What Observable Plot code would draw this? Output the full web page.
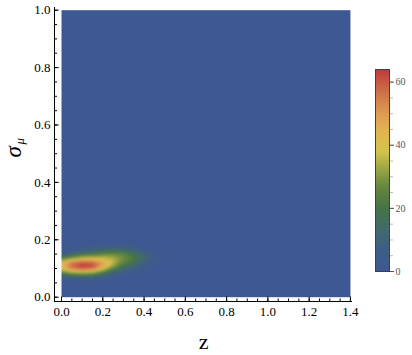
<!DOCTYPE html>
<html><head><meta charset="utf-8">
<script src="https://cdn.jsdelivr.net/npm/d3@7"></script>
<script src="https://cdn.jsdelivr.net/npm/@observablehq/plot@0.6"></script>
<style>
html,body{margin:0;padding:0;background:#fff;}
#chart{position:relative;width:412px;height:355px;overflow:hidden;background:#fff;}
#chart svg{position:absolute;top:0;}
</style></head><body><div id="chart"></div>
<script>
// grid sample positions
const zValues = [0, 0.05, 0.1, 0.15, 0.2, 0.25, 0.3, 0.35, 0.4, 0.45, 0.5, 0.6, 1.4];
const sigmaValues = [0, 0.04, 0.055, 0.07, 0.08, 0.09, 0.1, 0.11, 0.12, 0.13, 0.14, 0.15, 0.16, 0.17, 0.185, 0.2, 0.3, 1.0];
// density values, one row per sigma value, one column per z value
const density = [
  [0,0,0,0,0,0,0,0,0,0,0,0,0],
  [0,0,0,0,0,0,0,0,0,0,0,0,0],
  [1,2,2,2,1,0,0,0,0,0,0,0,0],
  [6,10,11,10,6,3,1,0,0,0,0,0,0],
  [17,24,26,24,15,7,3,1,0,0,0,0,0],
  [30,40,43,40,28,15,7,3,1,0,0,0,0],
  [40,54,58,55,41,24,13,7,3,0,0,0,0],
  [43,57,64,62,47,32,20,12,5,1,0,0,0],
  [41,55,60,58,48,35,25,17,8,2,0,0,0],
  [29,40,45,45,41,35,28,20,11,4,1,0,0],
  [16,25,32,34,34,32,28,21,12,4,1,0,0],
  [7,12,18,22,26,27,25,18,10,4,1,0,0],
  [3,5,9,12,16,18,17,12,6,2,0,0,0],
  [1,2,4,6,8,10,10,7,3,1,0,0,0],
  [0,0,1,2,3,3,3,2,1,0,0,0,0],
  [0,0,0,0,0,0,0,0,0,0,0,0,0],
  [0,0,0,0,0,0,0,0,0,0,0,0,0],
  [0,0,0,0,0,0,0,0,0,0,0,0,0]
];
const xTicks = [0, 0.2, 0.4, 0.6, 0.8, 1.0, 1.2, 1.4];
const xTickLabels = ["0.0","0.2","0.4","0.6","0.8","1.0","1.2","1.4"];
const yTicks = [0, 0.2, 0.4, 0.6, 0.8, 1.0];
const yTickLabels = ["0.0","0.2","0.4","0.6","0.8","1.0"];
const barTicks = [0, 20, 40, 60];
const barTickLabels = ["0","20","40","60"];
const colorStops = [0, 7, 13, 20, 27, 33, 38, 44, 50, 56, 64];
const colorRange = ["#3d5893","#3f5e86","#41696c","#467447","#66883e","#a2a845","#d4c44c","#e2b651","#df9b52","#d0764a","#c03a3c"];

const table = sigmaValues.flatMap((s, i) => zValues.map((z, j) => ({z, s, v: density[i][j]})));
const xMinor = d3.range(0, 1.4001, 0.05);
const yMinor = d3.range(0, 1.0001, 0.05);
const barMinor = d3.range(0, 64, 5);

const colorScale = {type: "linear", domain: colorStops, range: colorRange, clamp: true};
const X0 = -0.034, X1 = 1.41, Y0 = -0.015, Y1 = 1.0094;

const main = Plot.plot({
  width: 360, height: 355,
  marginLeft: 54, marginRight: 8, marginTop: 7, marginBottom: 54,
  style: {fontFamily: "'Liberation Serif','Times New Roman',serif", fontSize: "13px", color: "#000", background: "transparent"},
  x: {domain: [X0, X1]},
  y: {domain: [Y0, Y1]},
  color: colorScale,
  marks: [
    Plot.raster(table, {x: "z", y: "s", fill: "v", interpolate: "barycentric", x1: 0, x2: 1.4, y1: 0, y2: 1, blur: 1}),
    Plot.ruleX([X0], {stroke: "#000"}),
    Plot.ruleY([Y0], {stroke: "#000"}),
    Plot.axisX({ticks: xMinor, tickSize: 2.5, dy: -2.5, tickFormat: () => "", label: null}),
    Plot.axisX({ticks: xTicks, tickSize: 4.5, dy: -4.5, tickFormat: () => "", label: null}),
    Plot.axisX({ticks: xTicks, tickSize: 0, tickPadding: 5, tickFormat: (d, i) => xTickLabels[i], label: null}),
    Plot.axisY({ticks: yMinor, tickSize: 3, dx: 3, tickFormat: () => "", label: null}),
    Plot.axisY({ticks: yTicks, tickSize: 4.7, dx: 4.7, tickFormat: () => "", label: null}),
    Plot.axisY({ticks: yTicks, tickSize: 0, tickPadding: 4, tickFormat: (d, i) => yTickLabels[i], label: null}),
    Plot.text(["z"], {text: d => d, frameAnchor: "bottom", dy: 40, fontSize: 22, lineAnchor: "middle"}),
    Plot.text(["σ"], {text: d => d, frameAnchor: "left", rotate: -90, dx: -41, dy: 3, fontSize: 23, fontStyle: "italic", lineAnchor: "middle"}),
    Plot.text(["μ"], {text: d => d, frameAnchor: "left", rotate: -90, dx: -35, dy: -10, fontSize: 13, fontStyle: "italic", lineAnchor: "middle"})
  ]
});
main.style.left = "0px";

const bar = Plot.plot({
  width: 52, height: 355,
  marginLeft: 15, marginRight: 23, marginTop: 69, marginBottom: 84,
  style: {fontFamily: "'Liberation Serif','Times New Roman',serif", fontSize: "10px", color: "#555", background: "transparent"},
  x: {domain: [0, 1], axis: null},
  y: {domain: [0, 64]},
  color: colorScale,
  marks: [
    Plot.raster({fill: (x, y) => y, x1: 0, x2: 1, y1: 0, y2: 64}),
    Plot.frame({stroke: "#3b3d52"}),
    Plot.axisY({anchor: "right", ticks: barMinor, tickSize: 3, stroke: "#bbb", tickFormat: () => "", label: null}),
    Plot.axisY({anchor: "right", ticks: barTicks, tickSize: 4, tickPadding: 2, stroke: "#555", tickFormat: (d, i) => barTickLabels[i], label: null})
  ]
});
bar.style.left = "360px";

const root = document.getElementById("chart");
root.appendChild(main);
root.appendChild(bar);
</script></body></html>
